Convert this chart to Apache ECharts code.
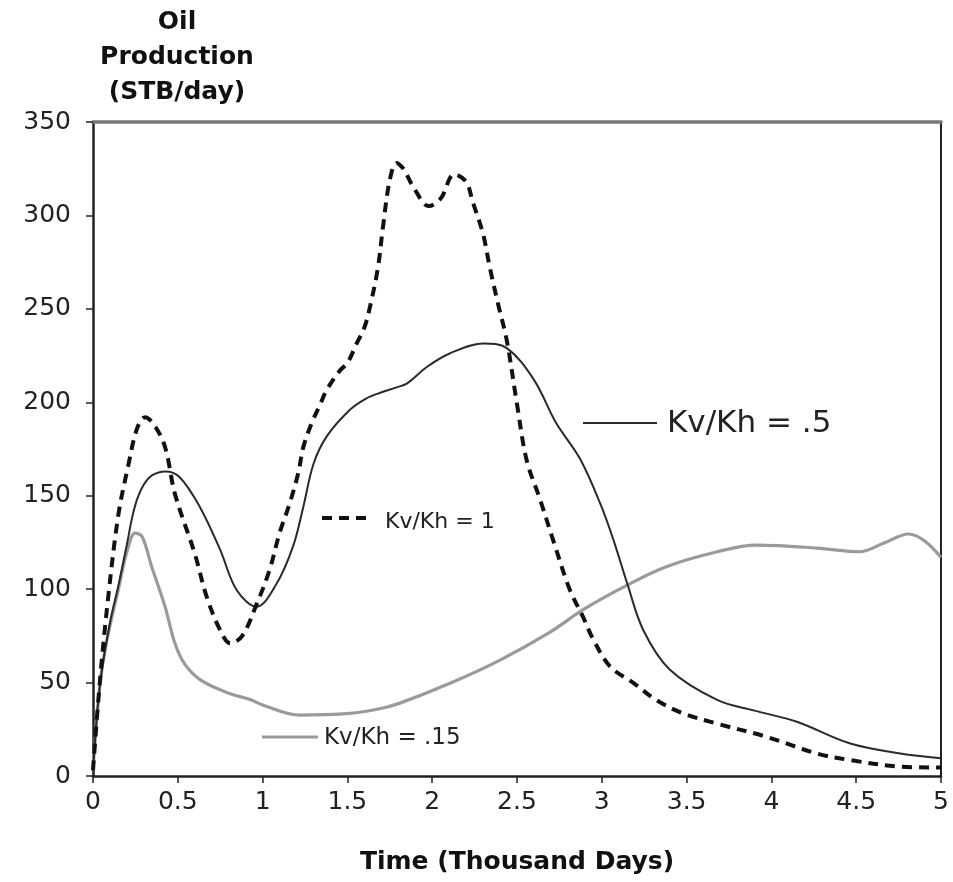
<!DOCTYPE html>
<html>
<head>
<meta charset="utf-8">
<script src="https://cdn.jsdelivr.net/npm/echarts@6/dist/echarts.min.js"></script>
<style>
html,body{margin:0;padding:0;background:#fff;}
#chart{width:953px;height:882px;}
</style>
</head>
<body>
<div id="chart"></div>
<script>
// ---- Data (time in thousand days, oil production in STB/day) ----
var xTicks = ['0','0.5','1','1.5','2','2.5','3','3.5','4','4.5','5'];
var yTicks = [0,50,100,150,200,250,300,350];

var kv1Time = [0,0.041,0.09,0.15,0.21,0.26,0.307,0.36,0.425,0.483,0.6,0.67,0.75,0.81,0.88,0.965,1.04,1.1,1.16,1.21,1.24,1.29,1.34,1.378,1.456,1.5,1.555,1.6,1.633,1.68,1.71,1.75,1.79,1.83,1.89,1.98,2.05,2.13,2.2,2.24,2.3,2.34,2.39,2.44,2.5,2.557,2.636,2.714,2.81,2.89,2.95,3.05,3.19,3.32,3.48,3.68,3.97,4.27,4.46,4.76,5.0];
var kv1Oil  = [3,51,96,140,167,186,192,188,176,151,119,96,78,71,75,92,110,130,146,162,176,189,199,206.6,217,221,231.5,240,251,272,294,319,328,325,315,305,309,322,318,307,290,272,252,233,199,169,148,126,100,85,73,58.5,49.6,40.7,33.5,28,21,12,8.6,5,4.5];

var kv05Time = [0,0.04,0.1,0.15,0.2,0.23,0.26,0.3,0.35,0.425,0.51,0.63,0.75,0.847,0.965,1.083,1.18,1.24,1.3,1.38,1.515,1.61,1.69,1.79,1.85,1.97,2.1,2.3,2.44,2.6,2.73,2.87,2.99,3.07,3.15,3.245,3.4,3.68,3.9,4.15,4.46,4.76,5.0];
var kv05Oil  = [3,48,82,102,124,138,148,156,161,163,160,144,121,99.5,90.6,103,123,144,167,182,196,202,205,208,210,219,226,231.5,229,212,189,170,146,126,103,78,57,40.7,35,29,17.5,12,9.5];

var kv015Time = [0,0.04,0.08,0.15,0.2,0.248,0.29,0.346,0.425,0.483,0.54,0.64,0.81,0.926,1.0,1.22,1.515,1.69,1.81,2.105,2.4,2.695,2.89,3.147,3.38,3.68,3.91,4.27,4.52,4.66,4.81,4.9,5.0];
var kv015Oil  = [3,48,72,100,120,130,128,112,90.6,71,60,51,44,41,38,32.6,33.5,36,39,49.6,62,77,89,102,112,120,123.6,122,120,124.5,129.5,126,117];

function zip(a, b) { return a.map(function (v, i) { return [v, b[i]]; }); }

var FONT = 'DejaVu Sans';
var chart = echarts.init(document.getElementById('chart'), null, {renderer: 'canvas'});

var option = {
  backgroundColor: '#ffffff',
  animation: false,
  grid: {left: 93, right: 12, top: 122, bottom: 106, show: false},
  xAxis: [{
    type: 'value', min: 0, max: 5, interval: 0.5,
    name: 'Time (Thousand Days)', nameLocation: 'middle', nameGap: 74,
    nameTextStyle: {fontFamily: FONT, fontWeight: 'bold', fontSize: 25, color: '#111'},
    axisLine: {show: true, onZero: false, lineStyle: {color: '#222', width: 2.5}},
    axisTick: {show: true, inside: false, length: 7, lineStyle: {color: '#222', width: 1.5}},
    axisLabel: {margin: 14, fontFamily: FONT, fontSize: 25, color: '#222',
      formatter: function (v) { var i = Math.round(v / 0.5); return xTicks[i] !== undefined ? xTicks[i] : ''; }},
    splitLine: {show: false}
  }, {
    type: 'value', min: 0, max: 5, interval: 0.5, position: 'top',
    axisLine: {show: true, onZero: false, lineStyle: {color: '#777', width: 3.5}},
    axisTick: {show: false}, axisLabel: {show: false}, splitLine: {show: false}
  }],
  yAxis: [{
    type: 'value', min: 0, max: 350, interval: 50,
    axisLine: {show: true, onZero: false, lineStyle: {color: '#222', width: 2.5}},
    axisTick: {show: true, inside: false, length: 7, lineStyle: {color: '#222', width: 1.5}},
    axisLabel: {margin: 22, fontFamily: FONT, fontSize: 25, color: '#222',
      formatter: function (v) { return yTicks.indexOf(v) >= 0 ? String(v) : ''; }},
    splitLine: {show: false}
  }, {
    type: 'value', min: 0, max: 350, interval: 50, position: 'right',
    axisLine: {show: true, onZero: false, lineStyle: {color: '#222', width: 2}},
    axisTick: {show: false}, axisLabel: {show: false}, splitLine: {show: false}
  }],
  series: [{
    name: 'Kv/Kh = .15', type: 'line', data: zip(kv015Time, kv015Oil),
    showSymbol: false, symbol: 'none', smooth: 0.35,
    lineStyle: {color: '#9a9a9a', width: 3.2}
  }, {
    name: 'Kv/Kh = .5', type: 'line', data: zip(kv05Time, kv05Oil),
    showSymbol: false, symbol: 'none', smooth: 0.35,
    lineStyle: {color: '#2a2a2a', width: 2}
  }, {
    name: 'Kv/Kh = 1', type: 'line', data: zip(kv1Time, kv1Oil),
    showSymbol: false, symbol: 'none', smooth: 0.35,
    lineStyle: {color: '#111', width: 4, type: [10, 7]}
  }],
  graphic: [{
    type: 'text', x: 177, y: 5,
    style: {text: 'Oil\nProduction\n(STB/day)', textAlign: 'center',
      fontFamily: FONT, fontWeight: 'bold', fontSize: 25, lineHeight: 35, fill: '#111'}
  }, {
    type: 'line', shape: {x1: 322, y1: 518, x2: 372, y2: 518},
    style: {stroke: '#111', lineWidth: 4, lineDash: [10, 7]}
  }, {
    type: 'text', x: 385, y: 522,
    style: {text: 'Kv/Kh = 1', textVerticalAlign: 'middle',
      fontFamily: FONT, fontSize: 22, fill: '#222'}
  }, {
    type: 'line', shape: {x1: 583, y1: 423, x2: 657, y2: 423},
    style: {stroke: '#2a2a2a', lineWidth: 2}
  }, {
    type: 'text', x: 667, y: 424,
    style: {text: 'Kv/Kh = .5', textVerticalAlign: 'middle',
      fontFamily: FONT, fontSize: 31, fill: '#222'}
  }, {
    type: 'line', shape: {x1: 262, y1: 737, x2: 318, y2: 737},
    style: {stroke: '#9a9a9a', lineWidth: 3.2}
  }, {
    type: 'text', x: 324, y: 738,
    style: {text: 'Kv/Kh = .15', textVerticalAlign: 'middle',
      fontFamily: FONT, fontSize: 23, fill: '#222'}
  }]
};
chart.setOption(option);
</script>
</body>
</html>
